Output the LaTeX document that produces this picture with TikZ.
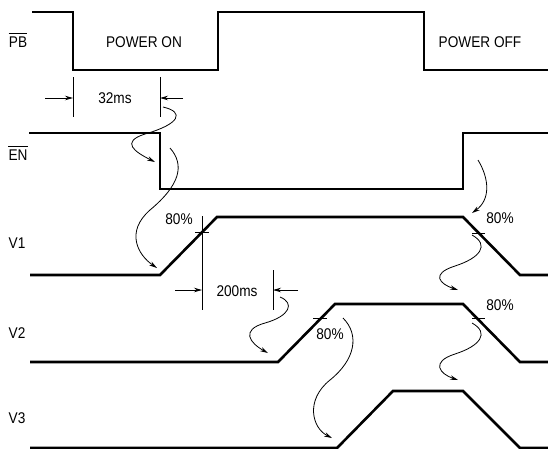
\documentclass[tikz,border=0pt]{standalone}
\usepackage{fontspec}
\setmainfont{Liberation Sans}
\usetikzlibrary{arrows.meta}

% condensed lettering as in the data sheet
\newcommand{\sqz}[1]{\scalebox{0.88}[1]{#1}}

\begin{document}
\begin{tikzpicture}[x=1pt, y=-1pt, >={Stealth[length=8pt,width=4.5pt]},
    sig/.style={line width=2.6pt, line join=miter},
    thinline/.style={line width=0.8pt},
    lbl/.style={font=\fontsize{15.5}{18}\selectfont, inner sep=0pt}]
  \useasboundingbox (0,0) rectangle (548,448);

  % Signal names (active low ones get a bar)
  \node[lbl] (PB_name) at (18,42) {\sqz{PB}};
  \node[lbl] (EN_name) at (18,155) {\sqz{EN}};
  \draw[thinline] ([yshift=3pt]PB_name.north west) -- ([yshift=3pt]PB_name.north east);
  \draw[thinline] ([yshift=3pt]EN_name.north west) -- ([yshift=3pt]EN_name.north east);
  \node[lbl] (V1_name) at (17,243) {\sqz{V1}};
  \node[lbl] (V2_name) at (17,333) {\sqz{V2}};
  \node[lbl] (V3_name) at (17,418) {\sqz{V3}};

  % Waveforms
  \draw[sig] (32,12) -- (73,12) -- (73,70) -- (218,70) -- (218,12) -- (424,12) -- (424,70) -- (550,70);
  \draw[sig] (29,133) -- (160,133) -- (160,189) -- (463,189) -- (463,133) -- (550,133);
  \draw[sig] (30,275) -- (160,275) -- (217,217) -- (463,217) -- (520,275) -- (550,275);
  \draw[sig] (30,362) -- (278,362) -- (335,304) -- (463,304) -- (520,362) -- (550,362);
  \draw[sig] (30,448) -- (337,448) -- (393,391) -- (463,391) -- (520,448) -- (550,448);

  % Button states
  \node[lbl] (on) at (144,42) {\sqz{POWER ON}};
  \node[lbl] (off) at (480,42) {\sqz{POWER OFF}};

  % 32ms delay
  \coordinate (T1_top) at (73,77);   \coordinate (T1_bot) at (73,117);
  \coordinate (T2_top) at (160,77);  \coordinate (T2_bot) at (160,117);
  \draw[thinline] (T1_top) -- (T1_bot);
  \draw[thinline] (T2_top) -- (T2_bot);
  \draw[thinline, ->] (45,98) -- (T1_top |- 0,98);
  \draw[thinline, ->] (183,98) -- (T2_top |- 0,98);
  \node[lbl] (d32) at (115,98) {\sqz{32ms}};

  % 200ms delay, starts at 80% of V1
  \coordinate (T3_top) at (202,216); \coordinate (T3_bot) at (202,310);
  \coordinate (T4_top) at (273,270); \coordinate (T4_bot) at (273,310);
  \draw[thinline] (T3_top) -- (T3_bot);
  \draw[thinline] (T4_top) -- (T4_bot);
  \draw[thinline, ->] (175,290) -- (T3_top |- 0,290);
  \draw[thinline, ->] (298,290) -- (T4_top |- 0,290);
  \node[lbl] (d200) at (237,291) {\sqz{200ms}};

  % 80% marks
  \draw[thinline] (195,232) -- (209,232);
  \node[lbl] (p1) at (179,219) {\sqz{80\%}};
  \draw[thinline] (313,318) -- (327,318);
  \node[lbl] (p2) at (330,334) {\sqz{80\%}};
  \draw[thinline] (472,233) -- (485,233);
  \node[lbl] (p3) at (500,218) {\sqz{80\%}};
  \draw[thinline] (472,318) -- (485,318);
  \node[lbl] (p4) at (500,305) {\sqz{80\%}};

  % Cause and effect
  \coordinate (A_s) at (163,107); \coordinate (A_e) at (155,162);
  \coordinate (B_s) at (170,148); \coordinate (B_e) at (157,268);
  \coordinate (C_s) at (280,297); \coordinate (C_e) at (268,353);
  \coordinate (D_s) at (343,318); \coordinate (D_e) at (332,438);
  \coordinate (E_s) at (478,160); \coordinate (E_e) at (472,213);
  \coordinate (F_s) at (472,235); \coordinate (F_e) at (458,290);
  \coordinate (G_s) at (472,323); \coordinate (G_e) at (458,380);
  \draw[thinline, ->] (A_s) .. controls (185,112) and (180,124) .. (145,134)
    .. controls (120,142) and (135,152) .. (A_e);
  \draw[thinline, ->] (B_s) .. controls (185,165) and (180,185) .. (150,210)
    .. controls (125,232) and (138,255) .. (B_e);
  \draw[thinline, ->] (C_s) .. controls (295,303) and (290,316) .. (265,323)
    .. controls (240,330) and (250,343) .. (C_e);
  \draw[thinline, ->] (D_s) .. controls (360,335) and (355,360) .. (330,380)
    .. controls (305,400) and (312,428) .. (D_e);
  \draw[thinline, ->] (E_s) .. controls (490,180) and (490,200) .. (E_e);
  \draw[thinline, ->] (F_s) .. controls (490,245) and (480,258) .. (455,266)
    .. controls (430,274) and (440,284) .. (F_e);
  \draw[thinline, ->] (G_s) .. controls (490,333) and (480,346) .. (455,354)
    .. controls (430,362) and (440,374) .. (G_e);

\end{tikzpicture}
\end{document}
